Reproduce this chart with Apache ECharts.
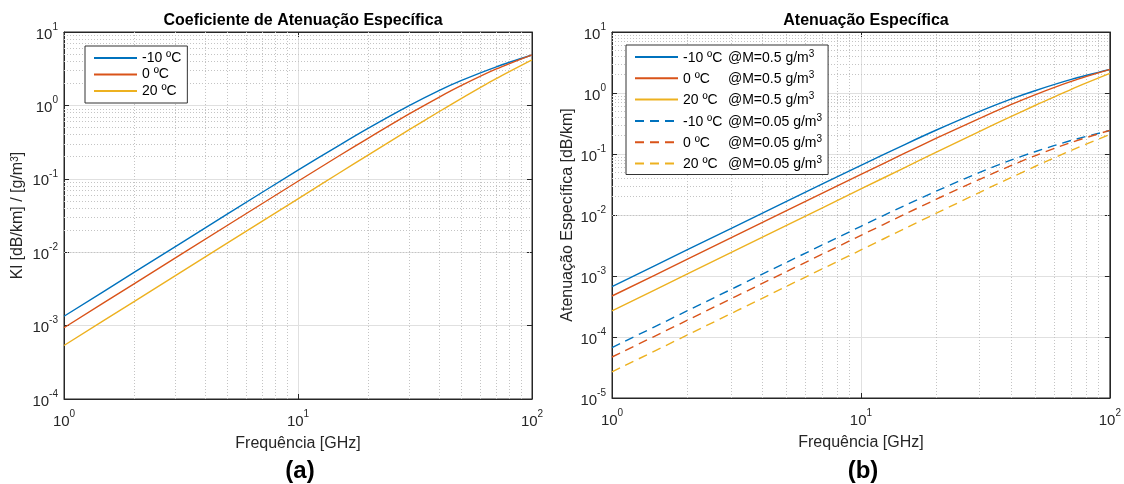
<!DOCTYPE html>
<html><head><meta charset="utf-8">
<script src="https://cdn.jsdelivr.net/npm/echarts@6/dist/echarts.min.js"></script>
<style>html,body{margin:0;padding:0;background:#fff}#c{width:1124px;height:484px}</style>
</head><body><div id="c"></div><script>
// Frequencies [GHz]
const freq = [1, 2, 5, 10, 15, 20, 30, 40, 50, 70, 100];
// (a) Kl [dB/km]/[g/m3]
const klM10 = [0.00134, 0.00534, 0.0332, 0.131, 0.286, 0.490, 1.00, 1.59, 2.19, 3.33, 4.86];
const kl0   = [0.000935, 0.00374, 0.0233, 0.0926, 0.206, 0.359, 0.771, 1.29, 1.87, 3.11, 4.89];
const kl20  = [0.000536, 0.00214, 0.0134, 0.0534, 0.120, 0.212, 0.470, 0.819, 1.25, 2.30, 4.17];
// (b) specific attenuation [dB/km]
const aM10_05 = [0.00067, 0.00267, 0.0166, 0.0653, 0.143, 0.245, 0.50, 0.794, 1.09, 1.67, 2.43];
const a0_05   = [0.00047, 0.00187, 0.0117, 0.0463, 0.103, 0.180, 0.385, 0.644, 0.935, 1.55, 2.44];
const a20_05  = [0.000268, 0.00107, 0.0067, 0.0267, 0.060, 0.106, 0.235, 0.41, 0.624, 1.15, 2.09];
const aM10_005 = [0.000067, 0.000267, 0.00166, 0.00653, 0.0143, 0.0245, 0.050, 0.0794, 0.109, 0.167, 0.243];
const a0_005   = [0.000047, 0.000187, 0.00117, 0.00463, 0.0103, 0.018, 0.0385, 0.0644, 0.0935, 0.155, 0.244];
const a20_005  = [0.0000268, 0.000107, 0.00067, 0.00267, 0.006, 0.0106, 0.0235, 0.041, 0.0624, 0.115, 0.209];

const tempLabels = ['-10 ºC', '0 ºC', '20 ºC'];
const mLabels = ['@M=0.5 g/m', '@M=0.05 g/m'];
const colors = ['#0072BD', '#D95319', '#EDB120'];

const FONT = 'Arial, "Liberation Sans", Helvetica, sans-serif';
const TXT = '#262626';

const pts = arr => freq.map((f, i) => [f, arr[i]]);
const tickRich = {
  a: {fontSize: 15, color: TXT, fontFamily: FONT, lineHeight: 20, verticalAlign: 'bottom'},
  b: {fontSize: 10, color: TXT, fontFamily: FONT, lineHeight: 12, verticalAlign: 'top'}
};
const powLabel = v => '{a|10}{b|' + Math.round(Math.log10(v)) + '}';

function minorLines(xDec, yDec) {
  const d = [];
  xDec.forEach(p => { for (let m = 2; m <= 9; m++) d.push({xAxis: m * Math.pow(10, p)}); });
  yDec.forEach(p => { for (let m = 2; m <= 9; m++) d.push({yAxis: m * Math.pow(10, p)}); });
  return {silent: true, symbol: 'none', label: {show: false}, animation: false, z: 1,
    lineStyle: {color: '#c4c4c4', type: [1, 2], width: 1}, emphasis: {disabled: true}, data: d};
}

const grids = [
  {left: 64, top: 32, width: 468, height: 367, show: true, borderColor: TXT, borderWidth: 1},
  {left: 612, top: 32, width: 498, height: 366, show: true, borderColor: TXT, borderWidth: 1}
];

function xAx(gi, pos) {
  const bottom = pos === 'bottom';
  return {type: 'log', logBase: 10, min: 1, max: 100, gridIndex: gi, position: pos,
    name: bottom ? 'Frequência [GHz]' : '', nameLocation: 'middle', nameGap: 37,
    nameTextStyle: {fontSize: 16, color: TXT, fontFamily: FONT},
    axisLine: {show: true, lineStyle: {color: TXT, width: 1}},
    axisTick: {show: true, inside: true, length: 5, lineStyle: {color: TXT}},
    axisLabel: {show: bottom, formatter: powLabel, rich: tickRich, margin: 10},
    splitLine: {show: bottom, lineStyle: {color: '#e0e0e0', width: 1}}};
}
function yAx(gi, pos, min, name, gap) {
  const left = pos === 'left';
  return {type: 'log', logBase: 10, min: min, max: 10, gridIndex: gi, position: pos,
    splitNumber: 6,
    name: left ? name : '', nameLocation: 'middle', nameRotate: 90, nameGap: gap,
    nameTextStyle: {fontSize: 16, color: TXT, fontFamily: FONT,
      rich: {s: {fontSize: 10, color: TXT, fontFamily: FONT, lineHeight: 10, verticalAlign: 'top'}}},
    axisLine: {show: true, lineStyle: {color: TXT, width: 1}},
    axisTick: {show: true, inside: true, length: 5, lineStyle: {color: TXT}},
    axisLabel: {show: left, formatter: powLabel, rich: tickRich, margin: 6},
    splitLine: {show: left, lineStyle: {color: '#e0e0e0', width: 1}}};
}

const leftData = [klM10, kl0, kl20];
const rightSolid = [aM10_05, a0_05, a20_05];
const rightDash = [aM10_005, a0_005, a20_005];

const series = [];
leftData.forEach((arr, i) => {
  series.push({type: 'line', name: tempLabels[i], xAxisIndex: 0, yAxisIndex: 0, data: pts(arr),
    symbol: 'none', smooth: 0.3, color: colors[i], lineStyle: {width: 1.4, color: colors[i]}, z: 3,
    markLine: i === 0 ? minorLines([0, 1], [-4, -3, -2, -1, 0]) : undefined});
});
rightSolid.forEach((arr, i) => {
  series.push({type: 'line', name: tempLabels[i] + '|' + mLabels[0], xAxisIndex: 1, yAxisIndex: 1, data: pts(arr),
    symbol: 'none', smooth: 0.3, color: colors[i], lineStyle: {width: 1.4, color: colors[i]}, z: 3,
    markLine: i === 0 ? minorLines([0, 1], [-5, -4, -3, -2, -1, 0]) : undefined});
});
rightDash.forEach((arr, i) => {
  series.push({type: 'line', name: tempLabels[i] + '|' + mLabels[1], xAxisIndex: 1, yAxisIndex: 1, data: pts(arr),
    symbol: 'none', smooth: 0.3, color: colors[i], lineStyle: {width: 1.4, color: colors[i], type: [9, 6]}, z: 3});
});

const option = {
  animation: false,
  backgroundColor: '#fff',
  textStyle: {fontFamily: FONT},
  title: [
    {text: 'Coeficiente de Atenuação Específica', left: 298, top: 8, textAlign: 'center',
      textStyle: {fontSize: 16, fontWeight: 'bold', color: '#000', fontFamily: FONT}},
    {text: 'Atenuação Específica', left: 861, top: 8, textAlign: 'center',
      textStyle: {fontSize: 16, fontWeight: 'bold', color: '#000', fontFamily: FONT}},
    {text: '(a)', left: 295, top: 454, textAlign: 'center',
      textStyle: {fontSize: 24, fontWeight: 'bold', color: '#000', fontFamily: FONT}},
    {text: '(b)', left: 858, top: 454, textAlign: 'center',
      textStyle: {fontSize: 24, fontWeight: 'bold', color: '#000', fontFamily: FONT}}
  ],
  grid: grids,
  xAxis: [xAx(0, 'bottom'), xAx(1, 'bottom'), xAx(0, 'top'), xAx(1, 'top')],
  yAxis: [yAx(0, 'left', 1e-4, 'Kl [dB/km] / [g/m{s|3}]', 38), yAx(1, 'left', 1e-5, 'Atenuação Específica [dB/km]', 36),
          yAx(0, 'right', 1e-4, '', 0), yAx(1, 'right', 1e-5, '', 0)],
  legend: [
    {data: tempLabels, left: 85, top: 46, orient: 'vertical', backgroundColor: '#fff', z: 20,
      borderColor: '#333', borderWidth: 1, padding: [5, 6, 5, 8], itemWidth: 43, itemHeight: 14, itemGap: 2.5,
      itemStyle: {opacity: 0},
      textStyle: {fontSize: 14, color: '#000', fontFamily: FONT}, selectedMode: false},
    {data: series.slice(3).map(s => s.name), left: 626, top: 45, orient: 'vertical', backgroundColor: '#fff', z: 20,
      borderColor: '#333', borderWidth: 1, padding: [4, 6, 3, 8], itemWidth: 43, itemHeight: 16, itemGap: 5.3,
      itemStyle: {opacity: 0},
      selectedMode: false,
      formatter: n => { const p = n.split('|'); return '{t|' + p[0] + '}{m|' + p[1] + '}{s|3}'; },
      textStyle: {fontSize: 14, color: '#000', fontFamily: FONT, rich: {
        t: {fontSize: 14, color: '#000', fontFamily: FONT, width: 45, lineHeight: 16, verticalAlign: 'bottom'},
        m: {fontSize: 14, color: '#000', fontFamily: FONT, lineHeight: 16, verticalAlign: 'bottom'},
        s: {fontSize: 10, color: '#000', fontFamily: FONT, lineHeight: 9, verticalAlign: 'top'}}}}
  ],
  series: series
};
const chart = echarts.init(document.getElementById('c'), null, {renderer: 'canvas'});
chart.setOption(option);
</script></body></html>
